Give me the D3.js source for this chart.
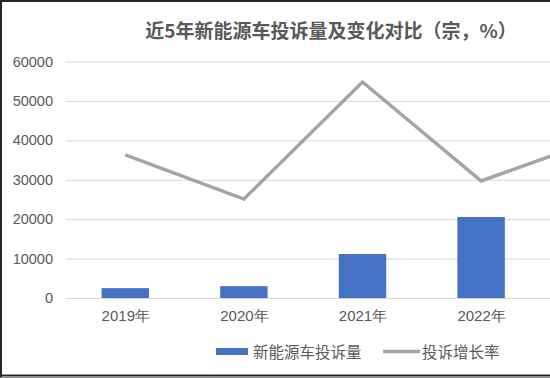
<!DOCTYPE html>
<html>
<head>
<meta charset="utf-8">
<script src="https://cdn.jsdelivr.net/npm/d3@7/dist/d3.min.js"></script>
<style>
html,body{margin:0;padding:0;overflow:hidden;background:#fff;}
svg{display:block;font-family:"Noto Sans CJK SC","Liberation Sans",sans-serif;}
</style>
</head>
<body>
<svg id="chart" width="550" height="378"></svg>
<script>
const title = "近5年新能源车投诉量及变化对比（宗，%）";
const categories = ["2019年", "2020年", "2021年", "2022年", "2023年"];
const complaintCounts = [2500, 3000, 11150, 20550];
const growthRates = [36.3, 25.1, 54.8, 29.7, 40.4];
const yTicks = [0, 10000, 20000, 30000, 40000, 50000, 60000];
const legendLabels = ["新能源车投诉量", "投诉增长率"];

(function () {
const svg = d3.select("#chart");
const W = 550, H = 378;
const plotLeft = 66, plotTop = 61.5, plotBottom = 298;
const band = 118.6;

const x = d3.scaleBand().domain(categories).range([plotLeft, plotLeft + band * categories.length]).paddingInner(0.6).paddingOuter(0.3);
const xc = d3.scalePoint().domain(categories).range([plotLeft + band / 2, plotLeft + band * (categories.length - 0.5)]);
const y = d3.scaleLinear().domain([0, 60000]).range([plotBottom, plotTop]);
const y2 = d3.scaleLinear().domain([0, 60]).range([plotBottom, plotTop]);

svg.append("rect").attr("width", W).attr("height", H).attr("fill", "#fff");

// gridlines
const grid = svg.append("g").attr("transform", `translate(${plotLeft},0)`)
  .call(d3.axisLeft(y).tickValues(yTicks).tickSize(-(W - plotLeft)).tickFormat(""));
grid.select(".domain").remove();
grid.selectAll("line").attr("stroke", "#d9d9d9").attr("stroke-width", 1);

// y labels
const yAx = svg.append("g").attr("transform", `translate(${plotLeft},0)`)
  .call(d3.axisLeft(y).tickValues(yTicks).tickSize(0).tickPadding(13).tickFormat(d3.format("d")));
yAx.select(".domain").remove();
yAx.selectAll("text").attr("fill", "#595959").attr("font-size", 14.5)
  .attr("font-family", "'Liberation Sans', Arial, sans-serif");

// bars
svg.append("g").selectAll("rect").data(complaintCounts).join("rect")
  .attr("x", (d, i) => x(categories[i]))
  .attr("width", x.bandwidth())
  .attr("y", d => y(d))
  .attr("height", d => y(0) - y(d))
  .attr("fill", "#4472c4");

// x labels (only those inside the visible area)
const visibleCats = categories.filter(c => xc(c) + 25 < W);
const xAx = svg.append("g").attr("transform", `translate(0,${plotBottom})`)
  .call(d3.axisBottom(xc).tickValues(visibleCats).tickSize(0).tickPadding(12));
xAx.select(".domain").remove();
xAx.selectAll("text").attr("fill", "#595959").attr("font-size", 15);

// line
svg.append("path").datum(growthRates)
  .attr("d", d3.line().x((d, i) => xc(categories[i])).y(d => y2(d)))
  .attr("fill", "none").attr("stroke", "#a5a5a5").attr("stroke-width", 3.5)
  .attr("stroke-linejoin", "miter");

// title
svg.append("text").attr("x", 331).attr("y", 38).attr("text-anchor", "middle")
  .attr("font-size", 19).attr("font-weight", "bold").attr("fill", "#595959").text(title);

// legend
const lg = svg.append("g");
lg.append("rect").attr("x", 216).attr("y", 348).attr("width", 32).attr("height", 7).attr("fill", "#4472c4");
lg.append("text").attr("x", 253).attr("y", 358).attr("font-size", 15.5).attr("fill", "#595959").text(legendLabels[0]);
lg.append("line").attr("x1", 383).attr("x2", 420).attr("y1", 351.5).attr("y2", 351.5)
  .attr("stroke", "#a5a5a5").attr("stroke-width", 3.5);
lg.append("text").attr("x", 422).attr("y", 358).attr("font-size", 15.5).attr("fill", "#595959").text(legendLabels[1]);

// frame
svg.append("line").attr("x1", 0).attr("x2", W).attr("y1", 1).attr("y2", 1).attr("stroke", "#262626").attr("stroke-width", 2);
svg.append("line").attr("x1", 1).attr("x2", 1).attr("y1", 0).attr("y2", H).attr("stroke", "#262626").attr("stroke-width", 2);
svg.append("line").attr("x1", 0).attr("x2", W).attr("y1", 375.5).attr("y2", 375.5).attr("stroke", "#262626").attr("stroke-width", 2);
svg.append("line").attr("x1", 0).attr("x2", W).attr("y1", 377.5).attr("y2", 377.5).attr("stroke", "#8c8c8c").attr("stroke-width", 1);
})();
</script>
</body>
</html>
